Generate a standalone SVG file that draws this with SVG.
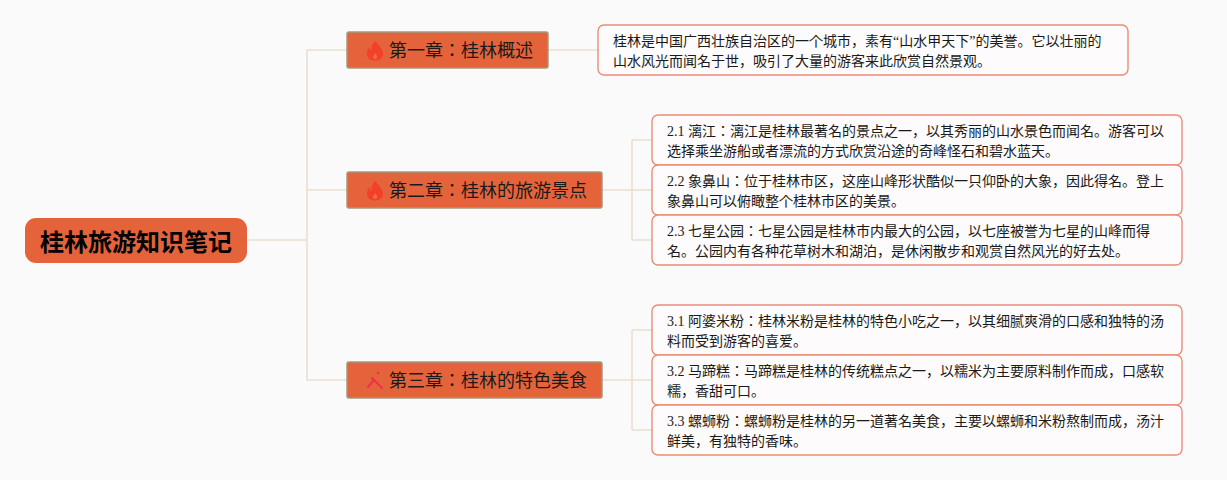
<svg xmlns="http://www.w3.org/2000/svg" width="1227" height="480" viewBox="0 0 1227 480">
<style>
text{font-family:"Liberation Serif","Noto Sans CJK JP",serif;fill:#1a1a1a}
.root rect{fill:#e5633a}
.root text{font-size:24px;font-weight:700;fill:#000}
.ch rect{fill:#e5633a;stroke:#a3997f;stroke-width:1.5}
.ch text{font-size:18px}
.leaf rect{fill:#fdfbfb;stroke:#e98d77;stroke-width:1.4}
.leaf text{font-size:14px}
.conn path{fill:none;stroke:#ecdfd0;stroke-width:1.6}
</style>
<defs>
<g id="flame"><path d="M1 -10C2 -6 8 -3 8 3C8 7 4.500 9.500 0 9.500C-4.500 9.500 -8 7 -8 3C-8 0 -7 -2.500 -5.500 -4C-5.500 -2 -5 -1 -3.500 -0.500C-4 -4 -2.500 -8 1 -10Z" fill="#f2402a"/><path d="M0.500 2C0 3.500 -2 4.500 -2 6C-2 7.500 -1 8 0 8C1.500 8 2.200 7 2.200 6C2.200 4.500 1 3.500 0.500 2Z" fill="#f4694a"/></g>
</defs>
<rect width="1227" height="480" fill="#fbfafb"/>
<g class="conn" id="connectors">
<path d="M247 240H307M307 240V50H347M307 240V190H347M307 240V380H347"/>
<path d="M548 50H598"/>
<path d="M602 190H632M632 140V240M632 140H652M632 190H652M632 240H652"/>
<path d="M602 380H632M632 330V430M632 330H652M632 380H652M632 430H652"/>
</g>
<g class="root" id="root"><rect x="25" y="218" width="222" height="45" rx="11"/><text x="40" y="251">桂林旅游知识笔记</text></g>
<g class="ch" id="ch1"><rect x="347" y="32" width="201" height="36" rx="2"/><use href="#flame" x="375" y="51"/><text x="389" y="57">第一章：桂林概述</text></g>
<g class="ch" id="ch2"><rect x="347" y="172" width="255" height="36" rx="2"/><use href="#flame" x="375" y="191"/><text x="389" y="197">第二章：桂林的旅游景点</text></g>
<g class="ch" id="ch3"><rect x="347" y="362" width="255" height="36" rx="2"/><path d="M368 387L374 380M372 378L382 388" fill="none" stroke="#f0304a" stroke-width="2" stroke-linecap="round"/><circle cx="378" cy="373" r="1.300" fill="#f0304a"/><text x="389" y="387">第三章：桂林的特色美食</text></g>
<g class="leaf" id="intro"><rect x="598" y="25" width="530" height="50" rx="6"/><text x="613" y="46">桂林是中国广西壮族自治区的一个城市，素有“山水甲天下”的美誉。它以壮丽的</text><text x="613" y="66">山水风光而闻名于世，吸引了大量的游客来此欣赏自然景观。</text></g>
<g class="leaf" id="n21"><rect x="652" y="115" width="530" height="50" rx="6"/><text x="667" y="136">2.1 漓江：漓江是桂林最著名的景点之一，以其秀丽的山水景色而闻名。游客可以</text><text x="667" y="156">选择乘坐游船或者漂流的方式欣赏沿途的奇峰怪石和碧水蓝天。</text></g>
<g class="leaf" id="n22"><rect x="652" y="165" width="530" height="50" rx="6"/><text x="667" y="186">2.2 象鼻山：位于桂林市区，这座山峰形状酷似一只仰卧的大象，因此得名。登上</text><text x="667" y="206">象鼻山可以俯瞰整个桂林市区的美景。</text></g>
<g class="leaf" id="n23"><rect x="652" y="215" width="530" height="50" rx="6"/><text x="667" y="236">2.3 七星公园：七星公园是桂林市内最大的公园，以七座被誉为七星的山峰而得</text><text x="667" y="256">名。公园内有各种花草树木和湖泊，是休闲散步和观赏自然风光的好去处。</text></g>
<g class="leaf" id="n31"><rect x="652" y="305" width="530" height="50" rx="6"/><text x="667" y="326">3.1 阿婆米粉：桂林米粉是桂林的特色小吃之一，以其细腻爽滑的口感和独特的汤</text><text x="667" y="346">料而受到游客的喜爱。</text></g>
<g class="leaf" id="n32"><rect x="652" y="355" width="530" height="50" rx="6"/><text x="667" y="376">3.2 马蹄糕：马蹄糕是桂林的传统糕点之一，以糯米为主要原料制作而成，口感软</text><text x="667" y="396">糯，香甜可口。</text></g>
<g class="leaf" id="n33"><rect x="652" y="405" width="530" height="50" rx="6"/><text x="667" y="426">3.3 螺蛳粉：螺蛳粉是桂林的另一道著名美食，主要以螺蛳和米粉熬制而成，汤汁</text><text x="667" y="446">鲜美，有独特的香味。</text></g>
</svg>
